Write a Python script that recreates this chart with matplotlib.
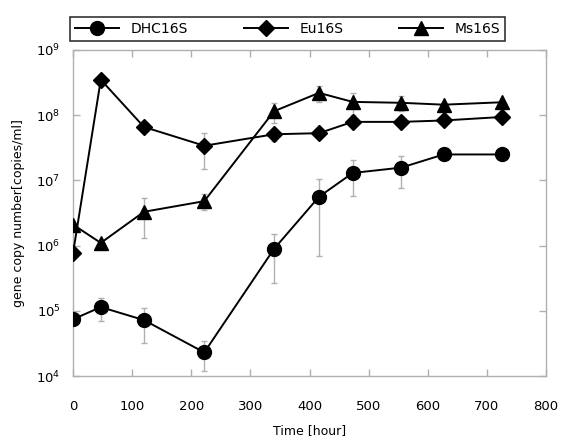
import matplotlib
matplotlib.use("Agg")
import matplotlib.pyplot as plt
import numpy as np
from matplotlib.ticker import FixedLocator, FixedFormatter, NullLocator

plt.rcParams['font.family'] = ['DejaVu Sans']

time_h = [0, 47, 120, 222, 340, 416, 473, 555, 627, 726]

dhc = [7.4e4, 1.14e5, 7.2e4, 2.3e4, 8.9e5, 5.6e6, 1.3e7, 1.57e7, 2.5e7, 2.5e7]
dhc_err = [0, 4.5e4, 4.0e4, 1.1e4, 6.2e5, 4.9e6, 7.3e6, 8.0e6, 0, 0]

eu = [7.6e5, 3.5e8, 6.6e7, 3.4e7, 5.1e7, 5.3e7, 7.9e7, 7.9e7, 8.3e7, 9.4e7]
eu_err = [0, 0, 0, 1.9e7, 1.1e7, 0, 1.0e7, 1.0e7, 1.0e7, 0]

ms = [2.1e6, 1.1e6, 3.3e6, 4.8e6, 1.15e8, 2.2e8, 1.6e8, 1.55e8, 1.45e8, 1.58e8]
ms_err = [0, 0, 2.0e6, 1.3e6, 4.0e7, 6.0e7, 6.0e7, 4.0e7, 0, 0]

series_names = ["DHC16S", "Eu16S", "Ms16S"]
x_ticks = [0, 100, 200, 300, 400, 500, 600, 700, 800]
y_ticks = [1e4, 1e5, 1e6, 1e7, 1e8, 1e9]
y_tick_labels = [r"$10^{4}$", r"$10^{5}$", r"$10^{6}$", r"$10^{7}$", r"$10^{8}$", r"$10^{9}$"]

fig = plt.figure(figsize=(5.63, 4.41), dpi=100)
ax = fig.add_axes([73/563, 1-376/441, (546-73)/563, (376-50)/441])

gray = '#b0b0b0'
series = [(dhc, dhc_err, 'o', 10), (eu, eu_err, 'D', 8.5), (ms, ms_err, '^', 10.5)]
handles = []
for (vals, errs, mk, msz), name in zip(series, series_names):
    ax.errorbar(time_h, vals, yerr=errs, fmt='none', ecolor=gray, elinewidth=1.0,
                capsize=2.5, capthick=1.0, zorder=1)
    h, = ax.plot(time_h, vals, color='black', lw=1.4, marker=mk, markersize=msz,
                 markerfacecolor='black', markeredgecolor='black', zorder=3, label=name)
    handles.append(h)

ax.set_yscale('log')
ax.set_xlim(0, 800)
ax.set_ylim(1e4, 1e9)
ax.xaxis.set_major_locator(FixedLocator(x_ticks))
ax.yaxis.set_major_locator(FixedLocator(y_ticks))
ax.yaxis.set_major_formatter(FixedFormatter(y_tick_labels))
ax.yaxis.set_minor_locator(NullLocator())

for s in ax.spines.values():
    s.set_color(gray)
    s.set_linewidth(1.0)
ax.tick_params(axis='both', which='major', direction='in', length=5, width=1.0,
               color=gray, top=True, right=True, labelsize=9.5)
ax.tick_params(axis='x', pad=17)
ax.tick_params(axis='y', pad=9)

ax.set_xlabel("Time [hour]", fontsize=9, labelpad=8)
ax.set_ylabel("gene copy number[copies/ml]", fontsize=9, labelpad=8)

leg = fig.legend(handles=handles, labels=series_names, loc='lower left',
                 bbox_to_anchor=(70/563, 1-41/441, (505-70)/563, 30/441),
                 mode='expand', ncol=3, frameon=True, fancybox=False,
                 edgecolor='black', fontsize=10, handlelength=3.2,
                 borderaxespad=0, borderpad=0.35, columnspacing=1.0)
leg.get_frame().set_linewidth(1.2)

fig.savefig("out.png", dpi=100)
